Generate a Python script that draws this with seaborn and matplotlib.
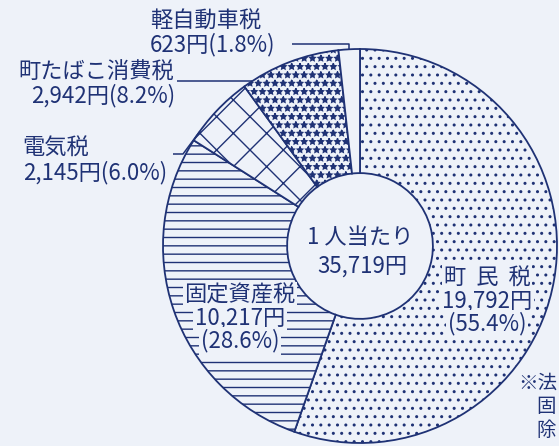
import numpy as np
import pandas as pd
import seaborn as sns
import matplotlib.pyplot as plt

# 1人当たり町税の内訳
taxes = ["町民税", "固定資産税", "電気税", "町たばこ消費税", "軽自動車税"]
amounts = [19792, 10217, 2145, 2942, 623]
shares = [55.4, 28.6, 6.0, 8.2, 1.8]
per_capita = 35719
hatches = ["..", "--", "x", "**", ""]

df = pd.DataFrame({"tax": taxes, "yen": amounts, "share": shares})

bg = "#eef2f9"
ink = "#1f3275"

sns.set_theme(style="white")
plt.rcParams["font.family"] = ["Noto Sans CJK JP", "DejaVu Sans"]
plt.rcParams["hatch.linewidth"] = 1.0
plt.rcParams["hatch.color"] = ink

W, H = 559, 446
CX, CY, R = 360, 246, 197

fig = plt.figure(figsize=(W / 100, H / 100), dpi=100, facecolor=bg)
ax = fig.add_axes([(CX - 200) / W, (H - CY - 200) / H, 400 / W, 400 / H])

wedges, _ = ax.pie(df["yen"], startangle=90, counterclock=False, radius=1,
                   wedgeprops=dict(width=0.63, edgecolor=ink, linewidth=1.3, facecolor=bg))
for w, h in zip(wedges, hatches):
    w.set_hatch(h)
ax.set_xlim(-200 / R, 200 / R)
ax.set_ylim(-200 / R, 200 / R)
ax.axis("off")


def to(px, py):
    # pixel position in the picture -> pie data coords
    return (px - CX) / R, (CY - py) / R


def edge(w, frac):
    t = np.deg2rad(w.theta1 + frac * (w.theta2 - w.theta1))
    return np.cos(t) * w.r, np.sin(t) * w.r


def label(px, py, s, ha="center", box=False):
    kw = {}
    if box:
        kw["bbox"] = dict(boxstyle="square,pad=0.08", fc=bg, ec="none")
    ax.text(*to(px, py), s, ha=ha, va="center", fontsize=16, color=ink,
            clip_on=False, **kw)


def yen(v):
    return f"{v:,}円"


ink_line = dict(color=ink, lw=1.1, clip_on=False, solid_capstyle="butt")

# 軽自動車税
k = df.iloc[4]
label(150, 21, k["tax"], ha="left")
label(150, 45, f"{yen(k['yen'])}({k['share']}%)", ha="left")
ex, ey = edge(wedges[4], 0.5)
x0, y0 = to(292, 44)
ax.plot([x0, ex, ex], [y0, y0, ey], **ink_line)

# 町たばこ消費税
t = df.iloc[3]
label(174, 72, t["tax"], ha="right")
label(175, 96, f"{yen(t['yen'])}({t['share']}%)", ha="right")
x0, y0 = to(177, 81)
ax.plot([x0, -np.sqrt(1 - y0 ** 2)], [y0, y0], **ink_line)

# 電気税
e = df.iloc[2]
label(22, 148, e["tax"], ha="left")
label(167, 173, f"{yen(e['yen'])}({e['share']}%)", ha="right")
ex, ey = edge(wedges[2], 0.85)
x0, y0 = to(173, 154)
x1, _ = to(183, 154)
ax.plot([x0, x1, ex], [y0, y0, ey], **ink_line)

# 固定資産税
f = df.iloc[1]
label(240, 295, f["tax"], box=True)
label(240, 318, yen(f["yen"]), box=True)
label(240, 341, f"({f['share']}%)", box=True)

# 町民税
m = df.iloc[0]
label(487, 278, "  ".join(m["tax"]), box=True)
label(487, 301, yen(m["yen"]), box=True)
label(487, 324, f"({m['share']}%)", box=True)

# center
label(360, 238, "1 人当たり")
label(362, 266, yen(per_capita))

# note at the right edge of the clipping
fig.text(518 / W, 1 - 383 / H, "※法", fontsize=14, color=ink, va="center")
fig.text(536 / W, 1 - 407 / H, "固", fontsize=14, color=ink, va="center")
fig.text(536 / W, 1 - 431 / H, "除", fontsize=14, color=ink, va="center")

fig.savefig("out.png", dpi=100, facecolor=bg)
